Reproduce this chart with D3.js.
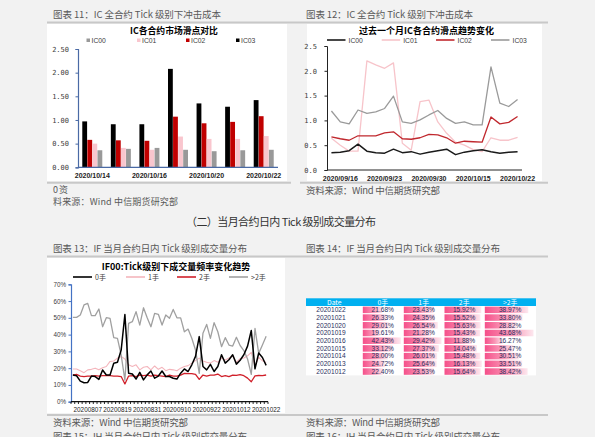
<!DOCTYPE html>
<html><head><meta charset="utf-8">
<script src="https://cdn.jsdelivr.net/npm/d3@7"></script>
<style>html,body{margin:0;padding:0;background:#f2f2f2;overflow:hidden}
svg{display:block;font-family:"Liberation Sans","Noto Sans CJK SC",sans-serif}</style>
</head><body><svg id="c" width="595" height="437"></svg>
<script>
// ---------- Chart 11 data ----------
const ic11Dates = ["2020/10/14","2020/10/15","2020/10/16","2020/10/19","2020/10/20","2020/10/21","2020/10/22"];
const ic11Labels = ["2020/10/14","2020/10/16","2020/10/20","2020/10/22"];
const ic11Series = ["IC00","IC01","IC02","IC03"];
const ic00Bar = [0.36,0.39,0.41,0.37,0.34,0.36,0.37];
const ic01Bar = [0.50,0.41,0.37,0.65,0.60,0.60,0.66];
const ic02Bar = [0.58,0.57,0.56,1.07,0.93,0.96,1.08];
const ic03Bar = [0.97,0.91,0.91,2.08,1.35,1.28,1.42];
const yTicks11 = [0,0.5,1,1.5,2,2.5];

// ---------- Chart 12 data ----------
const ic12Dates = ["2020/09/15","2020/09/16","2020/09/17","2020/09/18","2020/09/21","2020/09/22","2020/09/23","2020/09/24","2020/09/25","2020/09/28","2020/09/29","2020/09/30","2020/10/09","2020/10/12","2020/10/13","2020/10/14","2020/10/15","2020/10/16","2020/10/19","2020/10/20","2020/10/21","2020/10/22"];
const ic12Labels = ["2020/09/16","2020/09/23","2020/09/30","2020/10/15","2020/10/22"];
const ic00Line = [0.35,0.36,0.39,0.52,0.38,0.35,0.34,0.42,0.35,0.37,0.32,0.36,0.39,0.42,0.31,0.36,0.39,0.41,0.37,0.34,0.36,0.37];
const ic01Line = [0.64,0.50,0.38,0.38,2.20,2.12,2.05,2.16,0.54,0.40,1.38,1.41,0.97,0.74,0.56,0.50,0.41,0.37,0.65,0.60,0.60,0.66];
const ic02Line = [0.67,0.63,0.60,0.69,0.69,0.69,0.75,0.77,0.63,0.62,0.65,0.72,0.71,0.65,0.54,0.58,0.57,0.56,1.07,0.93,0.96,1.08];
const ic03Line = [1.19,0.97,0.93,1.21,1.14,1.17,1.24,1.49,0.97,0.94,1.01,1.11,1.20,1.04,0.94,0.97,0.91,0.91,2.08,1.35,1.28,1.42];
const yTicks12 = [0,0.5,1,1.5,2,2.5];

// ---------- Chart 13 data ----------
const if13Dates = ["20200803","20200804","20200805","20200806","20200807","20200810","20200811","20200812","20200813","20200814","20200817","20200818","20200819","20200820","20200821","20200824","20200825","20200826","20200827","20200828","20200831","20200901","20200902","20200903","20200904","20200907","20200908","20200909","20200910","20200911","20200914","20200915","20200916","20200917","20200918","20200921","20200922","20200923","20200924","20200925","20200928","20200929","20200930","20201009","20201012","20201013","20201014","20201015","20201016","20201019","20201020","20201021","20201022"];
const if13Labels = ["20200807","20200819","20200831","20200910","20200922","20201012","20201022"];
const hand0 = [15.9,15.5,12.3,11.3,11.5,15.3,15.0,13.3,18.9,15.9,15.9,22.9,23.5,30.8,52.0,17.0,16.5,13.5,17.5,13.0,16.0,18.3,14.0,15.3,18.3,15.0,15.0,14.0,13.5,17.0,19.5,18.0,22.0,27.0,38.8,21.0,19.0,22.3,18.0,21.0,28.0,23.0,25.0,28.0,22.40,24.72,28.00,33.12,42.43,19.61,29.01,26.33,21.68];
const hand1 = [19.5,19.5,18.5,17.3,19.0,19.3,20.0,19.0,20.3,21.0,24.0,24.3,26.0,27.0,25.5,22.0,21.0,22.0,19.0,20.5,21.0,19.0,21.3,19.3,20.5,18.5,19.3,19.0,18.5,20.0,21.0,21.5,23.0,24.5,26.0,24.3,23.5,23.0,24.5,23.5,26.0,24.8,26.0,27.3,23.53,25.64,26.01,27.37,29.42,21.28,26.54,24.35,23.43];
const hand2 = [15.9,16.3,15.3,15.0,15.3,15.3,15.5,15.3,15.5,15.5,15.5,15.3,15.3,15.0,10.6,15.3,15.5,15.0,15.9,15.5,15.9,15.3,15.9,15.5,15.3,15.0,15.9,15.3,15.3,15.9,16.9,16.7,16.7,16.3,13.3,15.9,15.3,15.9,15.9,16.5,15.0,15.5,15.0,15.9,15.64,16.13,15.48,14.04,11.88,15.43,15.63,15.52,15.92];
const hand3 = [50.3,50.3,51.7,57.7,58.6,51.3,51.3,55.3,44.7,50.1,49.7,38.2,37.8,27.8,12.9,46.7,47.7,53.7,45.7,56.0,50.1,44.7,52.7,52.1,45.7,51.7,49.7,55.0,50.0,50.0,41.7,43.3,37.8,30.8,16.9,40.8,46.1,37.8,47.1,41.7,32.8,38.2,33.8,33.2,38.42,33.51,30.51,25.47,16.27,43.68,28.82,33.80,38.97];
const yTicks13 = [0,10,20,30,40,50,60,70];
const handNames = ["0手","1手","2手",">2手"];

// ---------- Chart 14 table data ----------
const tblHeader = ["Date","0手","1手","2手",">2手"];
const tblDates = ["20201022","20201021","20201020","20201019","20201016","20201015","20201014","20201013","20201012"];
const tbl0 = [21.68,26.33,29.01,19.61,42.43,33.12,28.00,24.72,22.40];
const tbl1 = [23.43,24.35,26.54,21.28,29.42,27.37,26.01,25.64,23.53];
const tbl2 = [15.92,15.52,15.63,15.43,11.88,14.04,15.48,16.13,15.64];
const tbl3 = [38.97,33.80,28.82,43.68,16.27,25.47,30.51,33.51,38.42];

// ================= drawing =================
const svg = d3.select("#c");
svg.append("rect").attr("width",595).attr("height",437).attr("fill","#f2f2f2");

function T(x,y,s,o={}){
  const t = svg.append("text").attr("x",x).attr("y",y).text(s)
    .attr("font-size",o.size||9.5).attr("fill",o.fill||"#595959")
    .attr("text-anchor",o.anchor||"start");
  if(o.weight) t.attr("font-weight",o.weight);
  if(o.family) t.attr("font-family",o.family);
  if(o.len) t.attr("textLength",o.len).attr("lengthAdjust","spacing");
  return t;
}
function L(x1,y1,x2,y2,c,w){
  svg.append("line").attr("x1",x1).attr("y1",y1).attr("x2",x2).attr("y2",y2)
    .attr("stroke",c).attr("stroke-width",w);
}
const CJK = "'Noto Sans CJK SC',sans-serif";

// page texts and separators
T(53,17.5,"图表 11：IC 全合约 Tick 级别下冲击成本",{len:168,family:CJK});
T(306,17.5,"图表 12：IC 全合约 Tick 级别下冲击成本",{len:167,family:CJK});
L(47,22.5,548,22.5,"#c8c8c8",2);
L(47,182.8,291,182.8,"#c8c8c8",2);
L(300,182.8,548,182.8,"#c8c8c8",2);
T(53,192.5,"0 资",{len:15,size:9,family:CJK});
T(53,205,"料来源：Wind  中信期货研究部",{len:125,size:9,family:CJK});
T(306,194,"资料来源：Wind  中信期货研究部",{len:134,family:CJK});
T(186,226,"（二）当月合约日内 Tick 级别成交量分布",{len:190,size:11,fill:"#333",family:CJK});
T(53,251.5,"图表 13：IF 当月合约日内 Tick 级别成交量分布",{len:194,family:CJK});
T(306,251.5,"图表 14：IF 当月合约日内 Tick 级别成交量分布",{len:194,family:CJK});
L(47,256.5,548,256.5,"#c8c8c8",2);
L(47,415,548,415,"#c8c8c8",2);
T(53,425.5,"资料来源：Wind  中信期货研究部",{len:135,family:CJK});
T(306,426,"资料来源：Wind  中信期货研究部",{len:134,family:CJK});
T(53,439.5,"图表 15：IH 当月合约日内 Tick 级别成交量分布",{len:194,family:CJK});
T(306,439.5,"图表 16：IH 当月合约日内 Tick 级别成交量分布",{len:194,family:CJK});

// ---------- Chart 11 ----------
svg.append("rect").attr("x",47).attr("y",24).attr("width",240).attr("height",157).attr("fill","#fff");
T(174,33.5,"IC各合约市场滑点对比",{anchor:"middle",size:8.8,weight:"bold",fill:"#000",family:CJK});
const col11 = {IC00:"#999999",IC01:"#f9c6ce",IC02:"#c00000",IC03:"#000000"};
const leg11x = [86.5,137,186,236];
ic11Series.forEach((s,i)=>{
  svg.append("rect").attr("x",leg11x[i]).attr("y",38.5).attr("width",3.5).attr("height",3.5).attr("fill",col11[s]);
  T(leg11x[i]+5,42.5,s,{size:6.8,fill:"#404040"});
});
const y11 = d3.scaleLinear().domain([0,2.5]).range([167.3,49]);
const x11 = d3.scaleBand().domain(ic11Dates).range([78,278]).paddingInner(0.3).paddingOuter(0.15);
const order11 = ["IC03","IC02","IC01","IC00"];
const vals11 = {IC00:ic00Bar,IC01:ic01Bar,IC02:ic02Bar,IC03:ic03Bar};
const xs11 = d3.scaleBand().domain(order11).range([0,x11.bandwidth()]).paddingInner(0.05);
const g11 = svg.append("g");
ic11Dates.forEach((d,i)=>{
  order11.forEach(s=>{
    g11.append("rect").attr("x",x11(d)+xs11(s)).attr("y",y11(vals11[s][i]))
      .attr("width",xs11.bandwidth()).attr("height",y11(0)-y11(vals11[s][i])).attr("fill",col11[s]);
  });
});
const ax11 = svg.append("g").attr("transform","translate(78,0)")
  .call(d3.axisLeft(y11).tickValues(yTicks11).tickSize(2.5).tickFormat(d3.format(".2f")));
ax11.select(".domain").attr("stroke","#4a6aa5").attr("stroke-width",1.2);
ax11.selectAll(".tick line").attr("stroke","#4a6aa5");
ax11.selectAll(".tick text").attr("font-size",7).attr("fill","#404040").attr("font-family","'DejaVu Sans Mono',monospace").attr("x",-9);
L(78,167.3,278,167.3,"#4a6aa5",1.2);
ic11Labels.forEach(d=>{
  T(x11(d)+x11.bandwidth()/2,177.5,d,{anchor:"middle",size:7,weight:"bold",fill:"#222"});
});

// ---------- Chart 12 ----------
svg.append("rect").attr("x",307).attr("y",24).attr("width",235).attr("height",157).attr("fill","#fff");
T(426.5,34,"过去一个月IC各合约滑点趋势变化",{anchor:"middle",size:9,weight:"bold",fill:"#000",family:CJK});
const col12 = ["#1a1a1a","#f7c4ca","#c0282e","#9a9a9a"];
const legLx12 = [327,381.7,436,491];
ic11Series.forEach((s,i)=>{
  L(legLx12[i],40,legLx12[i]+18.5,40,col12[i],1.6);
  T(legLx12[i]+21.5,42.5,s,{size:6.8,fill:"#404040"});
});
const y12 = d3.scaleLinear().domain([0,2.5]).range([170,46]);
const x12 = d3.scalePoint().domain(ic12Dates).range([327,522]).padding(0.5);
const lines12 = [ic00Line,ic01Line,ic02Line,ic03Line];
const drawOrder12 = [1,3,2,0];
drawOrder12.forEach(k=>{
  const ln = d3.line().x((v,i)=>x12(ic12Dates[i])).y(v=>y12(v));
  svg.append("path").attr("d",ln(lines12[k])).attr("fill","none")
    .attr("stroke",col12[k]).attr("stroke-width",k===0?1.5:1.3).attr("stroke-linejoin","round");
});
const ax12 = svg.append("g").attr("transform","translate(327,0)")
  .call(d3.axisLeft(y12).tickValues(yTicks12).tickSize(2.5).tickFormat(d3.format(".1f")));
ax12.select(".domain").attr("stroke","#222").attr("stroke-width",1);
ax12.selectAll(".tick line").attr("stroke","#222");
ax12.selectAll(".tick text").attr("font-size",7).attr("fill","#404040").attr("font-family","'DejaVu Sans Mono',monospace").attr("x",-10);
L(327,170,522,170,"#222",1);
ic12Labels.forEach(d=>{
  T(x12(d),180.5,d,{anchor:"middle",size:7,weight:"bold",fill:"#222"});
});

// ---------- Chart 13 ----------
svg.append("rect").attr("x",47).attr("y",258).attr("width",238).attr("height",155).attr("fill","#fff");
T(176,270,"IF00:Tick级别下成交量频率变化趋势",{anchor:"middle",size:9,weight:"bold",fill:"#000",family:CJK});
const col13 = ["#000000","#f4b5bc","#d0202a","#a0a0a0"];
const legLx13 = [73,126,177,229];
handNames.forEach((s,i)=>{
  L(legLx13[i],277,legLx13[i]+19,277,col13[i],1.6);
  T(legLx13[i]+22,279.8,s,{size:7,fill:"#404040",family:CJK});
});
const y13 = d3.scaleLinear().domain([0,70]).range([401.7,284.3]);
const x13 = d3.scalePoint().domain(if13Dates).range([71,268]).padding(0.5);
const series13 = [hand0,hand1,hand2,hand3];
[1,2,3,0].forEach(k=>{
  const ln = d3.line().x((v,i)=>x13(if13Dates[i])).y(v=>y13(v));
  svg.append("path").attr("d",ln(series13[k])).attr("fill","none")
    .attr("stroke",col13[k]).attr("stroke-width",k===0?1.5:(k===1?1.1:1.3)).attr("stroke-linejoin","round");
});
const ax13 = svg.append("g").attr("transform","translate(71,0)")
  .call(d3.axisLeft(y13).tickValues(yTicks13).tickSize(2.5).tickFormat(d=>d+"%"));
ax13.select(".domain").attr("stroke","#4472c4").attr("stroke-width",1.2);
ax13.selectAll(".tick line").attr("stroke","#4472c4");
ax13.selectAll(".tick text").attr("font-size",6.3).attr("fill","#404040").attr("x",-5);
L(71,401.7,268,401.7,"#111",1.2);
const step13 = x13.step();
d3.range(if13Dates.length+1).forEach(j=>{
  const xx = x13(if13Dates[0]) - step13/2 + j*step13;
  L(xx,401.7,xx,404,"#111",0.9);
});
if13Labels.forEach(d=>{
  T(x13(d),412,d,{anchor:"middle",size:6.4,fill:"#222"});
});

// ---------- Chart 14 table ----------
const rowsY = d3.scaleBand().domain(["hdr"].concat(tblDates)).range([298.3,375.4]);
const colEdges = [306,362.3,403.3,444,484.3,536];
const tblCols = [tbl0,tbl1,tbl2,tbl3];
svg.append("rect").attr("x",306).attr("y",rowsY(tblDates[0])).attr("width",230)
  .attr("height",375.4-rowsY(tblDates[0])).attr("fill","#fff");
svg.append("rect").attr("x",306).attr("y",298.3).attr("width",230).attr("height",rowsY.bandwidth()).attr("fill","#00b0f0");
tblHeader.forEach((h,c)=>{
  const cx = c===0 ? 334.3 : (colEdges[c]+colEdges[c+1])/2;
  T(cx,rowsY("hdr")+rowsY.bandwidth()/2+2.4,h,{anchor:"middle",size:6.8,fill:"#fff",family:CJK});
});
const defs = svg.append("defs");
const grad = defs.append("linearGradient").attr("id","pk").attr("x1","0").attr("x2","1").attr("y1","0").attr("y2","0");
grad.append("stop").attr("offset","0").attr("stop-color","#f5508a");
grad.append("stop").attr("offset","0.55").attr("stop-color","#f996b6");
grad.append("stop").attr("offset","1").attr("stop-color","#fde8ef");
tblCols.forEach((arr,c)=>{
  const x0 = colEdges[c+1], w = colEdges[c+2]-colEdges[c+1];
  const sc = d3.scaleLinear().domain([0,d3.max(arr)]).range([0,w-3]);
  arr.forEach((v,r)=>{
    const yy = rowsY(tblDates[r]);
    svg.append("rect").attr("x",x0+0.5).attr("y",yy+0.6).attr("width",sc(v))
      .attr("height",rowsY.bandwidth()-1.2).attr("fill","url(#pk)");
    T(x0+w/2,yy+rowsY.bandwidth()/2+2.3,v.toFixed(2)+"%",{anchor:"middle",size:6.6,fill:"#2a2f5e"});
  });
});
tblDates.forEach(d=>{
  T(331,rowsY(d)+rowsY.bandwidth()/2+2.3,d,{anchor:"middle",size:6.6,fill:"#2a2f5e"});
});
</script></body></html>
